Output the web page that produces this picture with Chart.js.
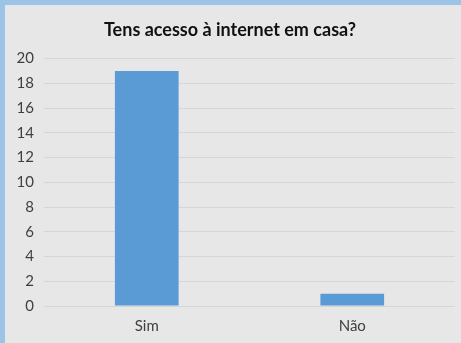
<!DOCTYPE html>
<html>
<head>
<meta charset="utf-8">
<script src="https://cdn.jsdelivr.net/npm/chart.js@4.4.0/dist/chart.umd.min.js"></script>
<style>
	body { margin: 0; background: #9dc3e6; width: 461px; height: 343px; overflow: hidden; }
	#caixa { position: absolute; left: 5px; top: 5px; width: 456px; height: 338px; background: #e7e7e7; }
</style>
</head>
<body>
<div id="caixa"><canvas id="grafico" width="456" height="338"></canvas></div>
<script>
	// Respostas do inquérito
	var respostas = ["Sim", "Não"]
	var quantidades = [19, 1]
	var titulo = "Tens acesso à internet em casa?"

	var ctx = document.getElementById("grafico").getContext("2d")
	var grafico = new Chart(ctx, {
		type: "bar",
		data: {
			labels: respostas,
			datasets: [{
				data: quantidades,
				backgroundColor: '#5b9bd5',
				categoryPercentage: 1,
				barPercentage: 0.31
			}]
		},
		options: {
			responsive: false,
			animation: false,
			layout: { padding: { top: 0, right: 6, bottom: 0, left: 0 } },
			plugins: {
				legend: { display: false },
				tooltip: { enabled: false },
				title: {
					display: true,
					text: titulo,
					color: '#111111',
					font: { family: 'Lato', size: 18, weight: 'bold' },
					padding: { top: 14, bottom: 18 }
				}
			},
			scales: {
				y: {
					min: 0,
					max: 20,
					ticks: { stepSize: 2, color: '#404040', font: { family: 'Lato', size: 15 }, padding: 10 },
					grid: { color: '#d6d6d6', drawTicks: false },
					border: { display: false },
					afterFit: function(scale) { scale.width = 39 }
				},
				x: {
					ticks: { color: '#404040', font: { family: 'Lato', size: 15 }, padding: 11 },
					grid: { display: false, drawTicks: false },
					border: { display: false },
					afterFit: function(scale) { scale.height = 37 }
				}
			}
		}
	})
</script>
</body>
</html>
